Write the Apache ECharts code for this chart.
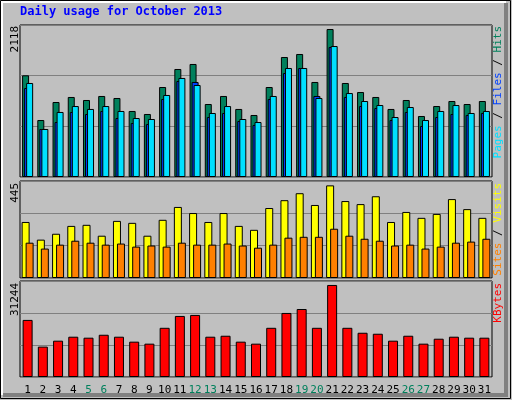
<!DOCTYPE html>
<html>
<head>
<meta charset="utf-8">
<script src="https://cdn.jsdelivr.net/npm/echarts@6/dist/echarts.min.js"></script>
<style>html,body{margin:0;padding:0;background:#c0c0c0}#main{width:512px;height:400px}</style>
</head>
<body>
<div id="main"></div>
<script>
var days = [];
for (var d = 1; d <= 31; d++) days.push(String(d));
var weekend = ['5', '6', '12', '13', '19', '20', '26', '27'];

var hits = [1417, 794, 1045, 1115, 1073, 1129, 1101, 920, 878, 1254, 1505, 1575, 1017, 1129, 948, 864,
    1254, 1672, 1714, 1324, 2062, 1310, 1184, 1115, 948, 1073, 850, 989, 1059, 1017, 1059];
var files = [1310, 669, 906, 989, 948, 989, 920, 822, 808, 1143, 1380, 1282, 892, 989, 808, 766,
    1129, 1519, 1519, 1101, 1825, 1170, 1059, 1003, 836, 975, 794, 920, 1003, 892, 920];
var pages = [1240, 669, 766, 906, 878, 920, 822, 752, 738, 1087, 1338, 1324, 836, 892, 780, 725,
    1087, 1449, 1519, 1129, 1811, 1115, 989, 961, 794, 906, 711, 836, 878, 864, 892];
var visits = [257, 176, 203, 239, 244, 194, 262, 253, 194, 267, 326, 298, 257, 298, 239, 221,
    321, 357, 389, 335, 425, 353, 339, 375, 257, 303, 276, 294, 362, 316, 276];
var sites = [162, 135, 153, 171, 162, 153, 158, 144, 149, 144, 162, 153, 153, 158, 149, 139,
    153, 185, 189, 189, 226, 194, 180, 171, 149, 153, 135, 144, 162, 167, 180];
var kbytes = [18580, 9890, 11820, 13110, 12790, 13750, 13110, 11500, 10850, 16010, 19870, 20200, 13110, 13430, 11500, 10850,
    16010, 20840, 22130, 16010, 29956, 16010, 14400, 14080, 11820, 13430, 10850, 12460, 13110, 12790, 12790];
var maxHits = 2118, maxVisits = 445, maxKbytes = 31244;

var chart = echarts.init(document.getElementById('main'));
var mono = 'DejaVu Sans Mono';

function yAx(idx, max) {
    return {
        gridIndex: idx, min: 0, max: max, interval: max / 3,
        axisLine: {show: false}, axisTick: {show: false}, axisLabel: {show: false},
        splitLine: {lineStyle: {color: '#808080', width: 1}}
    };
}
function xAx(idx, labels) {
    return {
        gridIndex: idx, type: 'category', data: days,
        axisLine: {show: false}, axisTick: {show: false},
        axisLabel: {
            show: labels, interval: 0, fontFamily: mono, fontSize: 11, margin: 8,
            color: function (v) { return weekend.indexOf(v) >= 0 ? '#00805c' : '#000'; }
        }
    };
}
function bar(name, data, color, xi, w, gap, bw) {
    return {
        name: name, type: 'bar', data: data, xAxisIndex: xi, yAxisIndex: xi,
        barWidth: w, barGap: gap, animation: false,
        itemStyle: {color: color, borderColor: '#000', borderWidth: bw === undefined ? 1 : bw}
    };
}
function vtext(x, y, parts) {
    return {
        type: 'text', x: x, y: y, rotation: Math.PI / 2,
        style: {
            text: parts.map(function (p) { return '{' + p[1] + '|' + p[0] + '}'; }).join(''),
            font: '11px ' + mono, fill: '#000',
            rich: {
                c: {fill: '#00e0ff', font: '11px ' + mono}, b: {fill: '#0040ff', font: '11px ' + mono},
                g: {fill: '#00805c', font: '11px ' + mono}, k: {fill: '#000', font: '11px ' + mono},
                o: {fill: '#ff8000', font: '11px ' + mono}, y: {fill: '#ffff00', font: '11px ' + mono},
                r: {fill: '#ff0000', font: '11px ' + mono}
            },
            align: 'right', verticalAlign: 'middle'
        }
    };
}
function ylab(y, txt) {
    return {
        type: 'text', x: 15, y: y, rotation: Math.PI / 2,
        style: {text: txt, font: '11px ' + mono, fill: '#000', align: 'right', verticalAlign: 'middle'}
    };
}

var option = {
    backgroundColor: '#c0c0c0',
    animation: false,
    grid: [
        {left: 20, width: 472, top: 25, height: 152, show: true, backgroundColor: 'transparent', borderColor: '#000'},
        {left: 20, width: 472, top: 181, height: 97, show: true, backgroundColor: 'transparent', borderColor: '#000'},
        {left: 20, width: 472, top: 281, height: 96, show: true, backgroundColor: 'transparent', borderColor: '#000'}
    ],
    xAxis: [xAx(0, false), xAx(1, false), xAx(2, true)],
    yAxis: [yAx(0, maxHits), yAx(1, maxVisits), yAx(2, maxKbytes)],
    series: [
        bar('Hits', hits, '#00805c', 0, 7, '-71%'),
        bar('Pages', pages, '#0040ff', 0, 7, '-71%'),
        bar('Files', files, '#00e0ff', 0, 7, '-71%'),
        bar('Visits', visits, '#ffff00', 1, 8, '-50%'),
        bar('Sites', sites, '#ff8000', 1, 8, '-50%'),
        bar('KBytes', kbytes, '#ff0000', 2, 10, '0%')
    ],
    graphic: [
        {type: 'rect', shape: {x: 0.5, y: 0.5, width: 510, height: 398}, style: {fill: 'none', stroke: '#000'}},
        {type: 'polyline', shape: {points: [[506, 3], [506, 395], [3, 395]]}, style: {stroke: '#808080', lineWidth: 4, fill: 'none'}},
        {type: 'polyline', shape: {points: [[2, 395], [2, 2], [506, 2]]}, style: {stroke: '#ffffff', lineWidth: 2, fill: 'none'}},
        {type: 'text', x: 20, y: 12, style: {text: 'Daily usage for October 2013', font: 'bold 12px ' + mono, fill: '#0000ff', verticalAlign: 'middle'}},
        ylab(26, String(maxHits)),
        ylab(183, String(maxVisits)),
        ylab(283, String(maxKbytes)),
        vtext(498, 26, [['Pages', 'c'], [' / ', 'k'], ['Files', 'b'], [' / ', 'k'], ['Hits', 'g']]),
        vtext(498, 183, [['Sites', 'o'], [' / ', 'k'], ['Visits', 'y']]),
        vtext(498, 283, [['KBytes', 'r']])
    ]
};
chart.setOption(option);
</script>
</body>
</html>
